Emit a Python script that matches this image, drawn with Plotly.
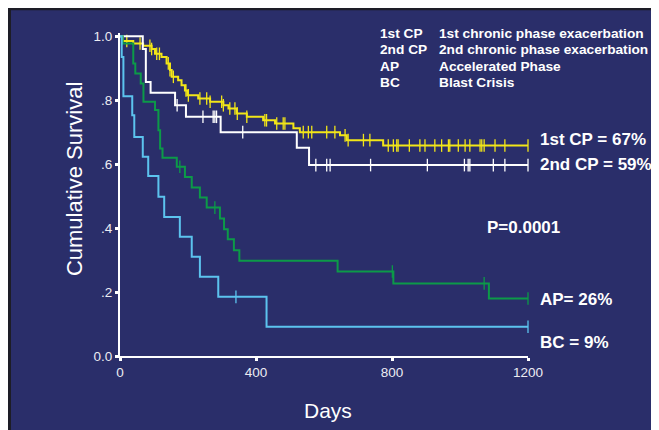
import plotly.graph_objects as go

# ---------------- data ----------------
cp1_times = [8, 39, 68, 93, 103, 122, 137, 147, 152, 171, 181, 191, 198, 230, 265, 304, 319, 343, 373, 421, 456, 510, 529, 647, 667, 774]
cp1_surv = [0.985, 0.977, 0.97, 0.96, 0.945, 0.935, 0.915, 0.894, 0.873, 0.862, 0.847, 0.83, 0.815, 0.805, 0.795, 0.784, 0.774, 0.758, 0.748, 0.737, 0.727, 0.712, 0.70, 0.69, 0.675, 0.658]
cp1_cens = [20, 59, 88, 93, 108, 116, 142, 147, 157, 194, 201, 235, 255, 265, 299, 304, 323, 338, 345, 373, 426, 431, 461, 480, 485,
            539, 554, 564, 608, 632, 662, 671, 716, 735, 789, 804, 814, 818, 851, 882, 897, 926, 946, 966, 970, 995, 1015,
            1029, 1059, 1064, 1071, 1103, 1132, 1200]

cp2_times = [67, 76, 90, 162, 194, 296, 520, 556]
cp2_surv = [0.96, 0.857, 0.823, 0.784, 0.748, 0.70, 0.651, 0.597]
cp2_cens = [168, 244, 274, 279, 284, 361, 576, 608, 618, 737, 904, 1013, 1024, 1029, 1098, 1132, 1200]

ap_times = [8, 39, 45, 61, 69, 103, 113, 118, 125, 167, 191, 211, 235, 255, 294, 306, 317, 335, 351, 640, 804, 1085]
ap_surv = [0.977, 0.915, 0.883, 0.852, 0.795, 0.769, 0.706, 0.649, 0.62, 0.592, 0.56, 0.527, 0.496, 0.464, 0.43, 0.396, 0.365, 0.331, 0.298, 0.264, 0.227, 0.18]
ap_cens = [176, 279, 801, 1071, 1200]

bc_times = [5, 10, 36, 42, 67, 83, 113, 130, 176, 211, 235, 289, 431]
bc_surv = [0.935, 0.8125, 0.753, 0.685, 0.623, 0.563, 0.498, 0.435, 0.373, 0.31, 0.248, 0.185, 0.0915]
bc_cens = [341, 1200]

x_tickvals = [0, 400, 800, 1200]
x_ticktext = ["0", "400", "800", "1200"]
y_tickvals = [0, 0.2, 0.4, 0.6, 0.8, 1.0]
y_ticktext = ["0.0", ".2", ".4", ".6", ".8", "1.0"]

legend_codes = ["1st CP", "2nd CP", "AP", "BC"]
legend_names = ["1st chronic phase exacerbation", "2nd chronic phase exacerbation", "Accelerated Phase", "Blast Crisis"]

end_labels = ["1st CP = 67%", "2nd CP = 59%", "AP= 26%", "BC = 9%"]

# ---------------- style ----------------
NAVY = "#2a2e6a"
colors = ["#f2e618", "#ffffff", "#0c9a48", "#5cc3ee"]
FONT = "Liberation Sans, Arial, sans-serif"

OFF = 8                      # page body margin
W, H = 659 - OFF, 430 - OFF  # figure size
X0_PX, X1_PX = 120, 528      # screen px of x=0 and x=1200
Y0_PX = 356                  # screen px of y=0
PX_PER_UNIT_Y = 320          # px per 1.0 of survival
YMAX = 1.01
L = X0_PX - OFF
R = W - (X1_PX - OFF)
B = H - (Y0_PX - OFF)
plot_h = PX_PER_UNIT_Y * YMAX
T = H - B - plot_h
plot_w = X1_PX - X0_PX


def px2x(p):
    return (p - X0_PX) / plot_w


def py2y(p):
    return (Y0_PX - p) / plot_h


def step_value(times, surv, t):
    v = 1.0
    for tt, s in zip(times, surv):
        if tt <= t:
            v = s
    return v


fig = go.Figure()
series = [(cp1_times, cp1_surv, cp1_cens), (cp2_times, cp2_surv, cp2_cens),
          (ap_times, ap_surv, ap_cens), (bc_times, bc_surv, bc_cens)]

for (times, surv, cens), col in zip(series, colors):
    xs = [0] + times + [1200]
    ys = [1.0] + surv + [surv[-1]]
    fig.add_trace(go.Scatter(x=xs, y=ys, mode="lines", line=dict(color=col, width=2, shape="hv"),
                             hoverinfo="skip", showlegend=False, cliponaxis=False))
    cy = [step_value(times, surv, c) for c in cens]
    fig.add_trace(go.Scatter(x=cens, y=cy, mode="markers",
                             marker=dict(symbol="line-ns", size=9, line=dict(color=col, width=1.3)),
                             hoverinfo="skip", showlegend=False, cliponaxis=False))

# ---------------- annotations ----------------
ann = []
leg_y = [33, 49.5, 66, 82]
for code, name, py in zip(legend_codes, legend_names, leg_y):
    ann.append(dict(x=px2x(378), y=py2y(py), xref="paper", yref="paper", text=code, showarrow=False,
                    xanchor="left", yanchor="middle", font=dict(family=FONT, size=13.7, color="white", weight="bold")))
    ann.append(dict(x=px2x(437), y=py2y(py), xref="paper", yref="paper", text=name, showarrow=False,
                    xanchor="left", yanchor="middle", font=dict(family=FONT, size=13.7, color="white", weight="bold")))

end_y = [139, 164, 299, 342]
for lab, py in zip(end_labels, end_y):
    ann.append(dict(x=px2x(538), y=py2y(py), xref="paper", yref="paper", text=lab, showarrow=False,
                    xanchor="left", yanchor="middle", font=dict(family=FONT, size=17, color="white", weight="bold")))

ann.append(dict(x=px2x(523), y=py2y(227), xref="paper", yref="paper", text="P=0.0001", showarrow=False,
                xanchor="center", yanchor="middle", font=dict(family=FONT, size=17, color="white", weight="bold")))

ann.append(dict(x=px2x(74), y=py2y(179), xref="paper", yref="paper", text="Cumulative Survival", showarrow=False,
                textangle=-90, xanchor="center", yanchor="middle", font=dict(family=FONT, size=22, color="white")))
ann.append(dict(x=px2x(328), y=py2y(411), xref="paper", yref="paper", text="Days", showarrow=False,
                xanchor="center", yanchor="middle", font=dict(family=FONT, size=21, color="white")))

# ---------------- frame shapes (thin dark edge at top/left of the slide) ----------------
shapes = [
    dict(type="rect", xref="paper", yref="paper", x0=px2x(8), x1=px2x(11), y0=py2y(440), y1=py2y(7),
         fillcolor="#1d1d26", line=dict(width=0), layer="below"),
    dict(type="rect", xref="paper", yref="paper", x0=px2x(8), x1=px2x(670), y0=py2y(10), y1=py2y(7),
         fillcolor="#1d1d26", line=dict(width=0), layer="below"),
]

fig.update_layout(
    width=W, height=H,
    margin=dict(l=L, r=R, t=T, b=B, pad=0),
    paper_bgcolor=NAVY, plot_bgcolor=NAVY,
    annotations=ann, shapes=shapes,
    showlegend=False,
    xaxis=dict(range=[0, 1200], tickvals=x_tickvals, ticktext=x_ticktext, showgrid=False, zeroline=False,
               showline=True, linecolor="white", linewidth=2, ticks="outside", ticklen=3, tickwidth=3,
               tickcolor="white", tickfont=dict(family=FONT, size=13.5, color="#ececf2"), fixedrange=True),
    yaxis=dict(range=[0, YMAX], tickvals=y_tickvals, ticktext=y_ticktext, showgrid=False, zeroline=False,
               showline=True, linecolor="white", linewidth=2, ticks="outside", ticklen=3, tickwidth=3,
               tickcolor="white", tickfont=dict(family=FONT, size=13.5, color="#ececf2"), fixedrange=True),
)

fig.write_html("out.html")
